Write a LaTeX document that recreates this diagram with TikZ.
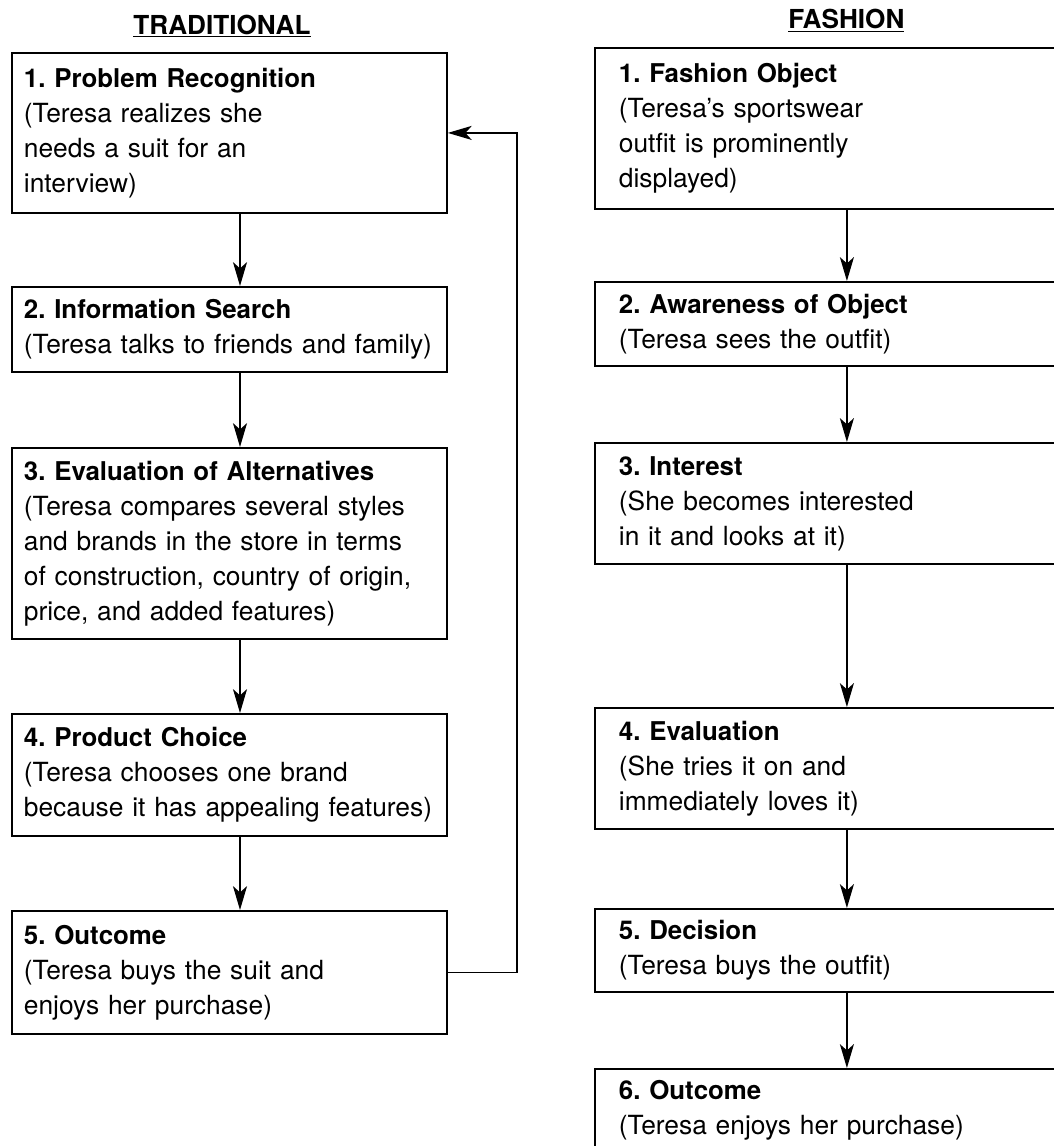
\documentclass[tikz,border=0pt]{standalone}
\usepackage{fontspec}
\setmainfont{TeX Gyre Heros}
\usetikzlibrary{arrows.meta}

\newcommand\stagetitle[1]{{\fontsize{18.4}{24.9}\selectfont\bfseries #1}}

\tikzset{
  stagebox/.style={draw,line width=1.3pt,anchor=north west,align=left,
    inner ysep=0pt,font=\fontsize{18.75}{24.9}\selectfont\frenchspacing},
  tradbox/.style={stagebox,inner xsep=0.3cm,text width=10.275cm},
  fashbox/.style={stagebox,inner xsep=0.6cm,text width=11.4cm},
  flow/.style={line width=1pt,-{Stealth[length=17pt,width=10pt,inset=4.5pt]}},
  heading/.style={font=\fontsize{18.6}{24.9}\selectfont\bfseries,anchor=base,inner sep=0pt}
}

\begin{document}
\begin{tikzpicture}[x=1cm,y=1cm]
  \useasboundingbox[fill=white] (0,0) rectangle (26.35,-28.65);

  % Column headings
  \node[heading] (tradhead) at (5.55,-0.85) {\underline{TRADITIONAL}};
  \node[heading] (fashhead) at (21.16,-0.72) {\underline{FASHION}};

  % Traditional decision process
  \node[tradbox,minimum height=4.0cm] (problem) at (0.275,-1.30)
    {\stagetitle{1. Problem Recognition}\\(Teresa realizes she\\needs a suit for an\\interview)};
  \node[tradbox,minimum height=2.125cm] (search) at (0.275,-7.15)
    {\stagetitle{2. Information Search}\\(Teresa talks to friends and family)};
  \node[tradbox,minimum height=4.775cm] (alternatives) at (0.275,-11.175)
    {\stagetitle{3. Evaluation of Alternatives}\\(Teresa compares several styles\\and brands in the store in terms\\of construction, country of origin,\\price, and added features)};
  \node[tradbox,minimum height=3.05cm] (choice) at (0.275,-17.825)
    {\stagetitle{4. Product Choice}\\(Teresa chooses one brand\\because it has appealing features)};
  \node[tradbox,minimum height=3.075cm] (tradoutcome) at (0.275,-22.75)
    {\stagetitle{5. Outcome}\\(Teresa buys the suit and\\enjoys her purchase)};

  % Fashion adoption process (boxes run off the right edge)
  \node[fashbox,minimum height=4.025cm] (object) at (14.85,-1.175)
    {\stagetitle{1. Fashion Object}\\(Teresa's sportswear\\outfit is prominently\\displayed)};
  \node[fashbox,minimum height=2.1cm] (awareness) at (14.85,-7.025)
    {\stagetitle{2. Awareness of Object}\\(Teresa sees the outfit)};
  \node[fashbox,minimum height=3.025cm] (interest) at (14.85,-11.05)
    {\stagetitle{3. Interest}\\(She becomes interested\\in it and looks at it)};
  \node[fashbox,minimum height=3.025cm] (evaluation) at (14.85,-17.675)
    {\stagetitle{4. Evaluation}\\(She tries it on and\\immediately loves it)};
  \node[fashbox,minimum height=2.075cm] (decision) at (14.85,-22.70)
    {\stagetitle{5. Decision}\\(Teresa buys the outfit)};
  \node[fashbox,minimum height=2.05cm] (fashoutcome) at (14.85,-26.70)
    {\stagetitle{6. Outcome}\\(Teresa enjoys her purchase)};

  \coordinate (tradx) at (6.0,0);
  \coordinate (loopx) at (12.925,0);

  \draw[flow] (problem.south -| tradx) -- (search.north -| tradx);
  \draw[flow] (search.south -| tradx) -- (alternatives.north -| tradx);
  \draw[flow] (alternatives.south -| tradx) -- (choice.north -| tradx);
  \draw[flow] (choice.south -| tradx) -- (tradoutcome.north -| tradx);
  % feedback from outcome back to problem recognition
  \draw[flow] (tradoutcome.east) -- (tradoutcome.east -| loopx)
    -- (problem.east -| loopx) -- (problem.east);

  \draw[flow] (object.south) -- (awareness.north);
  \draw[flow] (awareness.south) -- (interest.north);
  \draw[flow] (interest.south) -- (evaluation.north);
  \draw[flow] (evaluation.south) -- (decision.north);
  \draw[flow] (decision.south) -- (fashoutcome.north);
\end{tikzpicture}
\end{document}
